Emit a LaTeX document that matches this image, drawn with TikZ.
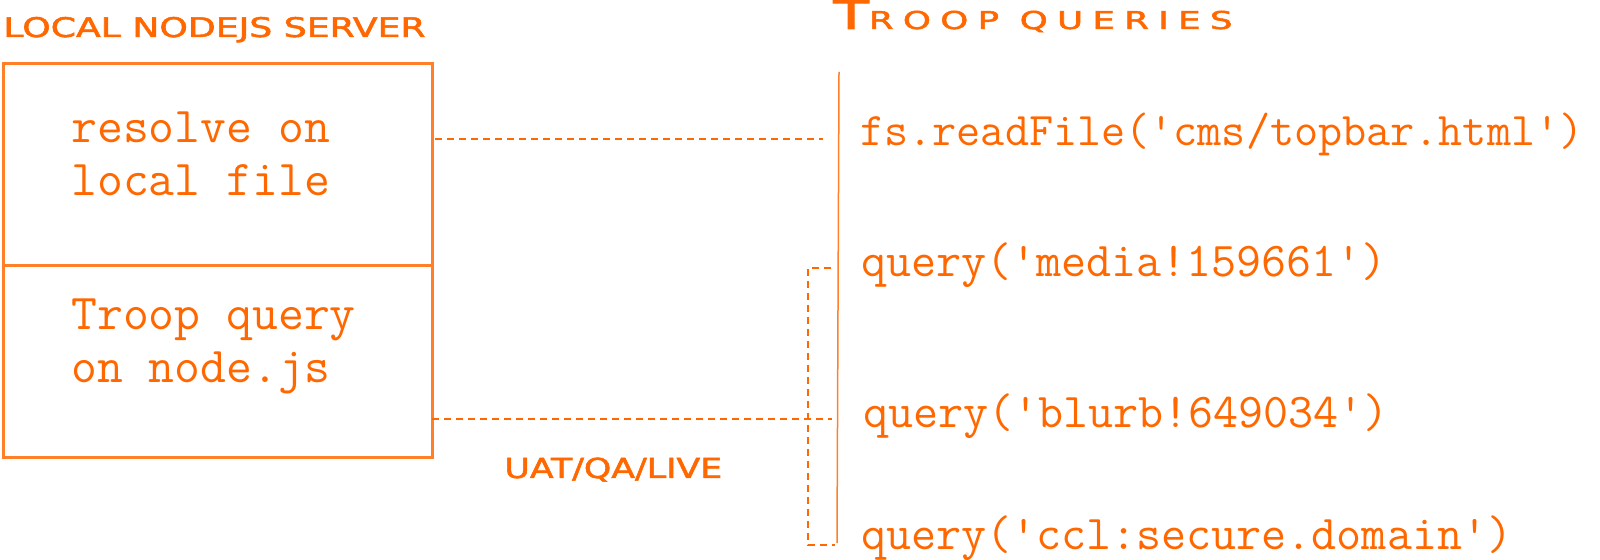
\documentclass[tikz,border=0pt]{standalone}
\usepackage{fontspec}
\usepackage{xcolor}
\usepackage{tikz}
\usetikzlibrary{positioning}

\newfontfamily\titlefont[FakeBold=1.8]{DejaVu Sans}
\newfontfamily\titlefontwide[FakeBold=1.8, LetterSpace=26]{DejaVu Sans}

\definecolor{naranja}{RGB}{255,104,0}
\definecolor{naranjaclaro}{RGB}{255,128,40}

\begin{document}
\begin{tikzpicture}[x=0.5pt, y=-0.5pt,
    caja/.style={draw=naranjaclaro, line width=1.5pt, minimum width=214.5pt, inner sep=0pt, outer sep=0pt, anchor=north west},
    enlace/.style={draw=naranja, line width=1.4pt, dash pattern=on 3.7pt off 2.3pt},
    eje/.style={draw=naranjaclaro, line width=0.75pt},
    codigo/.style={text=naranja, inner sep=0pt, anchor=base west, font=\ttfamily\fontsize{24.3}{28}\selectfont},
    textocaja/.style={text=naranja, inner sep=0pt, anchor=base west, align=left, font=\ttfamily\fontsize{25.1}{26.5}\selectfont},
    titulo/.style={text=naranja, inner sep=0pt, anchor=base west, font=\titlefont\fontsize{13.5}{15}\selectfont}]

    \useasboundingbox (0,0) rectangle (1600,560);

    % Caja del servidor local, dividida en dos partes
    \node[caja, minimum height=101pt] (filebox) at (3,64) {};
    \node[caja, minimum height=96pt] (querybox) at (filebox.south west) {};
    \node[textocaja] (filetext) at (71,196) {resolve on\\local file};
    \node[textocaja] (querytext) at (71,383) {Troop query\\on node.js};

    % Titulos
    \node[titulo] (servertitle) at (3,37) {\scalebox{1.34}[1]{LOCAL NODEJS SERVER}};
    \node[titulo] (troopstitle) at (833,29) {\titlefontwide\scalebox{1.45}[1]{{\fontsize{20}{21}\selectfont T}\fontsize{12.3}{14}\selectfont ROOP QUERIES}};
    \node[titulo, font=\titlefont\fontsize{13.8}{15}\selectfont] (envlabel) at (504,478) {\scalebox{1.26}[1]{UAT/QA/LIVE}};

    % Consultas de Troop
    \node[codigo, font=\ttfamily\fontsize{23.4}{28}\selectfont] (readfile) at (860,146) {fs.readFile('cms/topbar.html')};
    \node[codigo] (media) at (861,277) {query('media!159661')};
    \node[codigo] (blurb) at (863,428) {query('blurb!649034')};
    \node[codigo] (ccl) at (861,550) {query('ccl:secure.domain')};

    % Eje vertical
    \coordinate (spinetop) at (839,72);
    \coordinate (spinebot) at (837,543);
    \draw[eje] (spinetop) -- (spinebot);

    % Puntos de enganche a la altura de cada consulta
    \coordinate (fileline) at ([yshift=3.5pt]readfile.base west);
    \coordinate (medialine) at ([yshift=4.5pt]media.base west);
    \coordinate (blurbline) at ([yshift=4.5pt]blurb.base west);
    \coordinate (cclline) at ([yshift=2.5pt]ccl.base west);

    % Enlaces discontinuos
    \draw[enlace] ([xshift=1.5pt]filebox.east |- fileline) -- ([xshift=-8pt]spinetop |- fileline);
    \draw[enlace] (querybox.east |- blurbline) -- ([xshift=-2.5pt]spinebot |- blurbline);
    \draw[enlace] ([xshift=-4pt]spinetop |- medialine) -- ([xshift=-15.5pt]spinetop |- medialine)
        |- ([xshift=-1pt]spinebot |- cclline);
\end{tikzpicture}
\end{document}
